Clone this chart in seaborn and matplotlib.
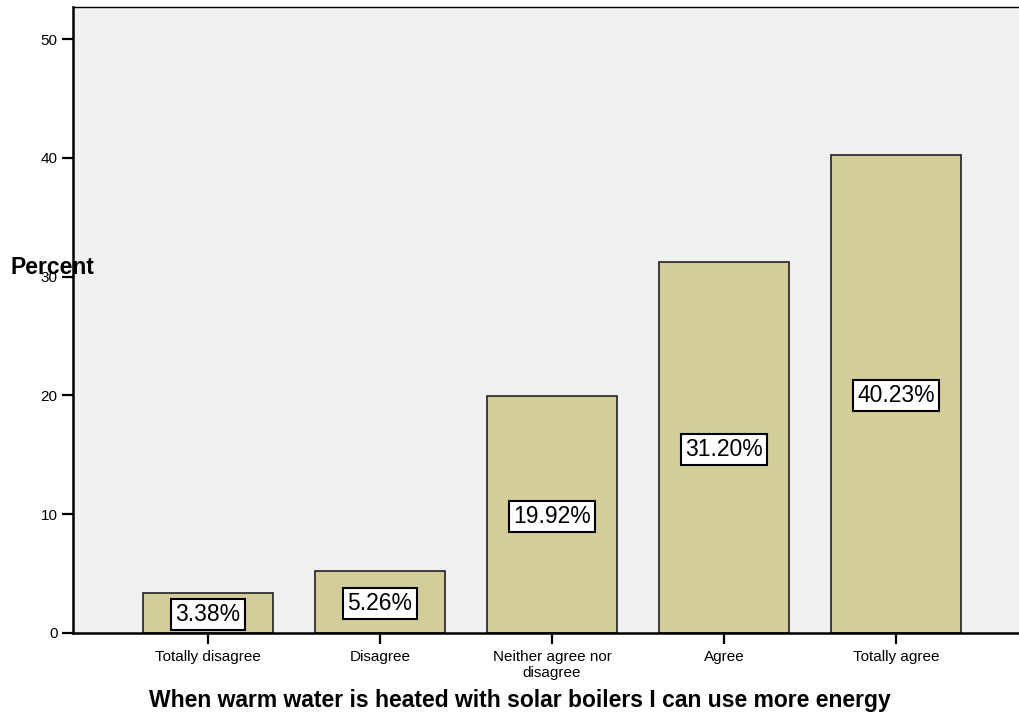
import matplotlib
matplotlib.use('Agg')
import matplotlib.pyplot as plt
import seaborn as sns
import pandas as pd

categories = ['Totally disagree', 'Disagree', 'Neither agree nor\ndisagree', 'Agree', 'Totally agree']
percents = [3.38, 5.26, 19.92, 31.20, 40.23]
value_labels = ['3.38%', '5.26%', '19.92%', '31.20%', '40.23%']
y_ticks = [0, 10, 20, 30, 40, 50]

sns.set_style('white')
plt.rcParams['font.family'] = ['Liberation Sans', 'DejaVu Sans']
plt.rcParams['text.color'] = 'black'
plt.rcParams['xtick.color'] = 'black'
plt.rcParams['ytick.color'] = 'black'

df = pd.DataFrame({'answer': categories, 'percent': percents})

fig = plt.figure(figsize=(10.19, 7.18), dpi=100)
ax = fig.add_axes([73 / 1019, 1 - 633 / 718, 1 - 73 / 1019, (633 - 7) / 718])
ax.set_facecolor('#F0F0F0')

sns.barplot(data=df, x='answer', y='percent', color='#D3CE99', saturation=1,
            width=0.756, edgecolor='#222222', linewidth=1.2, ax=ax)

for i, (v, lab) in enumerate(zip(percents, value_labels)):
    ax.text(i, v / 2 - 0.15, lab, ha='center', va='center', fontsize=16.5, color='black',
            bbox=dict(boxstyle='square,pad=0.18', facecolor='white', edgecolor='black', linewidth=1.5))

ax.set_xlim(-0.785, 4.715)
ax.set_ylim(0, 52.7)
ax.set_yticks(y_ticks)
ax.tick_params(axis='both', bottom=True, left=True, direction='out', length=8, width=1.6,
               color='black', labelcolor='black', labelsize=11)
ax.tick_params(axis='x', pad=4)
ax.tick_params(axis='y', pad=3)

for side in ['left', 'bottom']:
    ax.spines[side].set_linewidth(1.8)
    ax.spines[side].set_color('black')
ax.spines['top'].set_linewidth(1.0)
ax.spines['top'].set_color('black')
ax.spines['right'].set_visible(False)

ax.set_xlabel('')
ax.set_ylabel('')
fig.text(10 / 1019, 1 - 268 / 718, 'Percent', fontsize=16.5, fontweight='bold', ha='left', va='center')
fig.text(520 / 1019, 1 - 701 / 718, 'When warm water is heated with solar boilers I can use more energy',
         fontsize=16.5, fontweight='bold', ha='center', va='center')

fig.savefig('out.png', dpi=100)
